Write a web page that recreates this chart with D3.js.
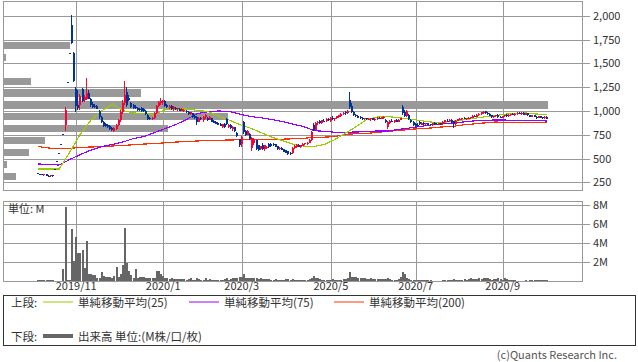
<!DOCTYPE html>
<html>
<head>
<meta charset="utf-8">
<script src="https://cdn.jsdelivr.net/npm/d3@7"></script>
<style>
body { margin: 0; background: #fff; }
text { font-family: "Noto Sans CJK JP", "DejaVu Sans", sans-serif; }
</style>
</head>
<body>
<div class="canvas"></div>
<script>
// trading day index of the first candle (slot 0 = left edge of chart)
const firstDay = 16;
const nSlots = 273;

// [open, high, low, close] per trading day, from firstDay
const candles = [
  [345,350,335,338],[338,342,330,332],[332,336,322,325],[322,340,320,336],[334,336,318,320],
  [320,324,312,314],[312,330,308,326],[324,326,310,313],[393,393,393,393],[473,473,473,473],
  [553,553,553,553],[653,653,653,653],[753,753,753,753],[850,1045,790,1005],[1305,1305,1305,1305],
  [1605,1605,1605,1605],[1905,2005,1700,1718],[1610,1620,1300,1318],[1230,1250,990,1050],[1060,1215,1010,1030],
  // 36
  [1062,1175,1010,1160],[1230,1240,1090,1100],[1110,1170,1090,1150],[1130,1345,1110,1190],[1190,1220,1120,1130],
  [1130,1140,1045,1060],[1070,1090,1030,1040],[1055,1070,1030,1045],[1050,1060,1015,1025],[1000,1010,920,940],
  [940,950,870,880],[880,890,830,845],[860,870,830,840],[850,860,825,835],[845,855,800,815],
  [825,835,785,795],[790,830,775,820],[815,860,800,850],[850,920,840,905],[905,1010,880,990],
  // 56
  [990,1110,970,1080],[1080,1315,1060,1170],[1200,1255,1040,1060],[1140,1170,1100,1115],[1080,1090,1030,1040],
  [1060,1070,1020,1030],[1045,1060,1020,1030],[1030,1040,995,1010],[1020,1030,1000,1010],[1030,1040,985,1000],
  [1020,1030,990,1000],[1000,1010,960,970],[960,965,905,915],[930,940,900,910],[910,940,905,930],
  [930,990,920,980],[980,1060,970,1050],[1050,1100,1040,1090],[1085,1140,1060,1100],[1090,1115,1060,1105],
  // 76
  [1100,1110,1040,1050],[1060,1070,1030,1040],[1030,1060,1020,1050],[1050,1060,1010,1020],[1020,1050,1000,1040],
  [1035,1040,1010,1015],[1015,1035,1000,1030],[1025,1030,995,1000],[1000,1030,995,1025],[995,1015,990,1010],
  [1000,1005,975,985],[990,1000,960,965],[965,990,960,985],[975,980,930,940],[945,955,920,930],
  [935,945,855,880],[885,940,880,930],[930,940,900,910],[905,950,880,940],[940,970,920,960],
  // 96
  [930,935,890,900],[905,945,900,935],[925,930,880,885],[895,905,870,875],[880,890,860,865],
  [870,880,850,855],[860,870,840,845],[830,865,820,860],[860,870,820,830],[920,930,855,865],
  [830,860,820,855],[855,860,815,825],[810,840,790,835],[830,835,780,790],[770,780,730,740],
  [700,710,620,640],[650,740,620,730],[880,890,760,780],[790,800,740,750],[750,800,745,790],
  // 116
  [760,770,690,700],[610,730,575,715],[660,715,640,700],[690,695,590,600],[640,645,575,585],
  [595,635,590,630],[640,660,590,600],[600,645,575,640],[610,630,600,625],[650,660,615,620],
  [655,660,625,630],[650,660,630,640],[650,655,620,625],[630,635,590,600],[610,625,585,615],
  [615,620,585,590],[600,605,565,570],[585,590,555,560],[575,580,540,545],[560,565,535,550],
  // 136
  [555,620,545,610],[610,640,600,630],[620,650,615,645],[640,648,620,625],[625,645,615,640],
  [635,660,630,655],[650,665,640,660],[660,670,645,665],[665,700,660,695],[690,790,685,780],
  [850,870,790,800],[800,880,795,870],[870,890,855,880],[890,900,865,870],[870,905,865,900],
  [895,910,880,890],[890,925,885,920],[920,930,895,905],[890,935,885,925],[925,945,900,910],
  // 156
  [910,930,895,925],[925,950,915,945],[940,960,930,955],[950,975,940,970],[965,985,955,980],
  [985,995,960,975],[975,1005,965,1000],[1110,1200,1020,1040],[1050,1080,975,990],[990,995,945,955],
  [955,965,935,945],[950,955,925,930],[935,945,915,925],[930,940,905,915],[910,930,905,925],
  [925,930,900,910],[905,925,900,920],[915,930,895,925],[925,930,900,905],[900,925,895,920],
  // 176
  [915,935,905,930],[930,940,915,920],[915,940,910,935],[925,945,920,940],[905,910,870,880],
  [835,890,805,880],[875,905,865,895],[895,910,880,885],[885,905,875,900],[900,910,880,885],
  [885,910,880,905],[905,930,900,925],[1045,1065,960,975],[990,1010,940,950],[945,1010,940,1000],
  [960,965,900,910],[905,915,870,880],[880,890,845,850],[860,870,830,840],[855,870,830,845],
  // 196
  [885,890,855,860],[855,880,850,875],[870,885,855,860],[860,875,850,870],[870,875,850,855],
  [860,865,845,850],[850,875,845,870],[870,880,855,860],[860,870,848,855],[855,875,850,870],
  [870,875,852,858],[858,890,855,885],[880,905,875,900],[895,910,885,890],[890,910,880,905],
  [905,910,875,880],[890,892,822,860],[860,900,855,895],[895,915,890,910],[905,925,900,920],
  // 216
  [915,930,905,925],[925,935,910,915],[915,930,905,925],[920,935,915,930],[925,940,915,935],
  [930,955,925,950],[945,960,935,940],[940,965,935,960],[955,975,950,970],[965,990,960,985],
  [980,995,970,990],[995,1000,965,975],[980,990,960,965],[970,975,945,950],[955,960,930,935],
  [935,950,925,945],[945,960,935,955],[960,965,930,935],[940,950,925,930],[930,950,925,945],
  // 236
  [945,960,940,955],[955,965,940,945],[945,965,940,960],[960,970,950,965],[965,975,955,960],
  [955,975,950,970],[965,985,960,980],[975,990,965,970],[970,985,960,980],[980,985,955,960],
  [960,980,955,975],[975,980,950,955],[955,960,935,940],[940,960,935,955],[955,960,935,940],
  [940,950,920,930],[930,950,925,945],[945,950,925,930],[935,940,920,925],[925,945,915,940],
  // 256
  [940,945,910,920]
];

// volume per day (M shares), from firstDay
const volume = [
  0.12,0.1,0.1,0.12,0.1,0.08,0.1,0.08,0.02,0.02,
  0.02,0.03,1.3,7.8,0.15,0.1,5.45,2.1,4.66,2.9,
  3.0,3.3,1.35,4.2,0.75,0.7,0.65,0.65,0.35,0.35,
  0.95,0.55,0.4,0.38,0.38,0.35,0.55,1.5,0.45,0.7,
  1.7,5.55,1.9,1.05,0.6,0.35,1.25,0.35,0.4,0.4,
  0.38,0.35,0.3,0.3,0.3,0.3,1.05,1.05,0.75,0.5,
  0.3,0.35,0.25,0.3,0.25,0.25,0.2,0.2,0.25,0.2,
  0.15,0.2,0.3,0.15,0.15,0.35,0.2,0.15,0.15,0.3,
  0.15,0.2,0.15,0.15,0.12,0.15,0.12,0.15,0.2,0.3,
  0.15,0.2,0.3,0.3,0.3,0.45,0.45,0.7,0.35,0.3,
  0.3,0.35,0.3,0.3,0.25,0.3,0.25,0.25,0.2,0.2,
  0.15,0.15,0.2,0.15,0.15,0.15,0.15,0.2,0.2,0.15,
  0.2,0.15,0.15,0.12,0.15,0.15,0.12,0.15,0.2,0.35,
  0.55,0.3,0.3,0.2,0.15,0.15,0.15,0.12,0.15,0.2,
  0.15,0.15,0.1,0.15,0.2,0.2,0.3,0.95,0.45,0.4,
  0.4,0.35,0.35,0.3,0.3,0.25,0.25,0.3,0.2,0.25,
  0.25,0.2,0.2,0.2,0.25,0.3,0.2,0.15,0.15,0.15,
  0.2,0.45,0.95,0.7,0.35,0.2,0.15,0.15,0.12,0.1,
  0.1,0.12,0.1,0.1,0.1,0.1,0.05,0.05,0.05,0.05,
  0.05,0.1,0.15,0.15,0.12,0.15,0.2,0.15,0.15,0.12,
  0.15,0.2,0.15,0.2,0.3,0.2,0.2,0.25,0.3,0.25,
  0.35,0.3,0.35,0.2,0.15,0.2,0.25,0.3,0.2,0.15,
  0.3,0.2,0.1,0.1,0.1,0.1,0.05,0.05,0.05,0.05,
  0.1,0.05,0.1,0.1,0.15,0.15,0.15,0.1,0.1,0.15,
  0.1
];

// moving averages read every 5 trading days from firstDay
const maStep = 5;
const ma25 = [390,390,390,568,757,904,999,1072,1004,978,973,962,1014,1020,1020,1006,994,946,904,857,
  820,773,726,689,652,631,626,647,700,768,836,910,936,941,928,915,899,883,878,889,
  904,920,936,948,965,974,978,967,960];
const ma75 = [443,435,432,490,542,589,624,647,673,710,731,773,815,857,910,973,990,999,994,967,
  941,928,910,889,862,836,794,784,776,776,778,784,789,789,805,820,836,852,862,873,
  883,894,901,904,904,899,899,899,894];
const ma200 = [626,610,605,607,616,621,624,631,638,644,652,657,665,673,678,684,689,692,694,697,
  700,700,700,703,707,712,721,724,731,755,760,764,775,786,794,805,815,820,831,836,
  852,862,873,883,881,879,878,878,879];

// volume by price band (lower edge of 125-yen band, M shares)
const bandLow = [250,375,500,625,750,875,1000,1125,1250,1375,1500,1625];
const bandVol = [0.6,0.15,1.25,2.05,8.2,11.2,27.25,6.85,1.35,0,0.1,3.3];
const bandSize = 125;

// axis ticks
const monthDays = [34,75,112,154,194,235];
const monthLabels = ['2019/11','2020/1','2020/3','2020/5','2020/7','2020/9'];
const priceTicks = [250,500,750,1000,1250,1500,1750,2000];
const volTicks = [2,4,6,8];

const svg = d3.select('.canvas')
  .append('svg')
    .attr('width', 638)
    .attr('height', 362)
    .style('display', 'block');

const gridColor = '#999';
const upColor = '#ff0033';
const downColor = '#003399';

// scales
const x = d3.scaleBand()
  .domain(d3.range(nSlots))
  .range([3, 582.3]);
const cx = i => x(i) + x.bandwidth() / 2;

const y = d3.scaleLinear()
  .domain([0, 2000])
  .range([206.1, 15.7]);

const yVol = d3.scaleLinear()
  .domain([0, 8])
  .range([281, 205]);

const px = v => Math.round(v) + 0.5;

// ---- upper panel ----
const upper = svg.append('g').attr('shape-rendering', 'crispEdges');

// volume-by-price bars (behind everything)
const bandW = d3.scaleLinear()
  .domain([0, d3.max(bandVol)])
  .range([0, cx(firstDay + candles.length - 1) - 3]);

upper.selectAll('rect.band')
  .data(bandLow.map((b, k) => ({low: b, vol: bandVol[k]})).filter(d => d.vol > 0))
  .enter()
  .append('rect')
    .attr('class', 'band')
    .attr('x', 4)
    .attr('width', d => Math.max(1, Math.round(bandW(d.vol))))
    .attr('y', d => Math.round(y(d.low + bandSize * 0.8)))
    .attr('height', d => Math.round(y(d.low + bandSize * 0.2)) - Math.round(y(d.low + bandSize * 0.8)))
    .attr('fill', '#999');

// grid
upper.selectAll('line.hgrid')
  .data(priceTicks)
  .enter()
  .append('line')
    .attr('x1', 3).attr('x2', 590)
    .attr('y1', d => px(y(d))).attr('y2', d => px(y(d)))
    .attr('stroke', gridColor);

upper.selectAll('line.vgrid')
  .data(monthDays)
  .enter()
  .append('line')
    .attr('x1', d => px(cx(d))).attr('x2', d => px(cx(d)))
    .attr('y1', 1.5).attr('y2', 190.5)
    .attr('stroke', gridColor);

upper.append('rect')
  .attr('x', 3.5).attr('y', 1.5)
  .attr('width', 579).attr('height', 189)
  .attr('fill', 'none')
  .attr('stroke', gridColor);

upper.selectAll('text.price')
  .data(priceTicks)
  .enter()
  .append('text')
    .attr('x', 593)
    .attr('y', d => y(d) + 4)
    .attr('font-size', 11)
    .attr('fill', '#333')
    .text(d => d3.format(',')(d));

// moving averages
const maLine = d3.line()
  .x((d, k) => cx(firstDay + k * maStep))
  .y(d => y(d));

[[ma200, '#ff3300'], [ma75, '#9900ff'], [ma25, '#99cc00']].forEach(([data, color]) => {
  upper.append('path')
    .datum(data)
    .attr('d', maLine)
    .attr('fill', 'none')
    .attr('stroke', color)
    .attr('stroke-width', 1.2);
});

// candles
const bars = upper.selectAll('g.candle')
  .data(candles.map((d, k) => ({i: firstDay + k, o: d[0], h: d[1], l: d[2], c: d[3]})))
  .enter()
  .append('g')
    .attr('fill', d => d.c > d.o ? upColor : downColor);

bars.append('rect')
  .attr('x', d => Math.round(cx(d.i)) - 1)
  .attr('width', 1)
  .attr('y', d => Math.round(y(d.h)))
  .attr('height', d => Math.max(1, Math.round(y(d.l)) - Math.round(y(d.h))));

bars.append('rect')
  .attr('x', d => Math.round(cx(d.i)) - 1)
  .attr('width', 2)
  .attr('y', d => Math.round(y(Math.max(d.o, d.c))))
  .attr('height', d => Math.max(1, Math.round(y(Math.min(d.o, d.c))) - Math.round(y(Math.max(d.o, d.c)))));

// ---- lower panel: volume ----
const lower = svg.append('g').attr('shape-rendering', 'crispEdges');

lower.selectAll('line.hgrid')
  .data(volTicks)
  .enter()
  .append('line')
    .attr('x1', 3).attr('x2', 590)
    .attr('y1', d => px(yVol(d))).attr('y2', d => px(yVol(d)))
    .attr('stroke', gridColor);

lower.selectAll('line.vgrid')
  .data(monthDays)
  .enter()
  .append('line')
    .attr('x1', d => px(cx(d))).attr('x2', d => px(cx(d)))
    .attr('y1', 201.5).attr('y2', 281.5)
    .attr('stroke', gridColor);

lower.selectAll('rect.vol')
  .data(volume)
  .enter()
  .append('rect')
    .attr('x', (d, k) => Math.round(cx(firstDay + k)) - 1)
    .attr('width', 2)
    .attr('y', d => Math.round(yVol(d)))
    .attr('height', d => 281 - Math.round(yVol(d)))
    .attr('fill', '#666');

lower.append('rect')
  .attr('x', 3.5).attr('y', 201.5)
  .attr('width', 579).attr('height', 80)
  .attr('fill', 'none')
  .attr('stroke', gridColor);

lower.selectAll('text.vol')
  .data(volTicks)
  .enter()
  .append('text')
    .attr('x', 593)
    .attr('y', d => yVol(d) + 4)
    .attr('font-size', 11)
    .attr('fill', '#333')
    .text(d => d + 'M');

svg.append('text')
  .attr('x', 8).attr('y', 213)
  .attr('font-size', 11)
  .attr('fill', '#333')
  .text('単位: M');

// month labels
svg.selectAll('text.month')
  .data(monthDays)
  .enter()
  .append('text')
    .attr('x', d => cx(d))
    .attr('y', 290)
    .attr('text-anchor', 'middle')
    .attr('font-size', 11)
    .attr('fill', '#333')
    .text((d, k) => monthLabels[k]);

// ---- legend ----
const legend = svg.append('g');
legend.append('rect')
  .attr('x', 3.5).attr('y', 295.5)
  .attr('width', 632).attr('height', 50)
  .attr('fill', 'none')
  .attr('stroke', '#333')
  .attr('shape-rendering', 'crispEdges');

const legendRows = [
  {label: '上段:', y: 307, items: [
    {x: 43, color: '#99cc00', w: 1, text: '単純移動平均(25)'},
    {x: 189, color: '#9900ff', w: 1, text: '単純移動平均(75)'},
    {x: 334, color: '#ff3300', w: 1, text: '単純移動平均(200)'}]},
  {label: '下段:', y: 341, items: [
    {x: 43, color: '#666', w: 4, text: '出来高 単位:(M株/口/枚)'}]}
];

legendRows.forEach(row => {
  legend.append('text')
    .attr('x', 11).attr('y', row.y)
    .attr('font-size', 11.5).attr('fill', '#333')
    .text(row.label);
  row.items.forEach(it => {
    legend.append('line')
      .attr('x1', it.x).attr('x2', it.x + 30)
      .attr('y1', row.y - 5).attr('y2', row.y - 5)
      .attr('stroke', it.color)
      .attr('stroke-width', it.w);
    legend.append('text')
      .attr('x', it.x + 35).attr('y', row.y)
      .attr('font-size', 11.5).attr('fill', '#333')
      .text(it.text);
  });
});

svg.append('text')
  .attr('x', 617).attr('y', 358.5)
  .attr('text-anchor', 'end')
  .attr('font-size', 11)
  .attr('fill', '#555')
  .text('(c)Quants Research Inc.');
</script>
</body>
</html>
